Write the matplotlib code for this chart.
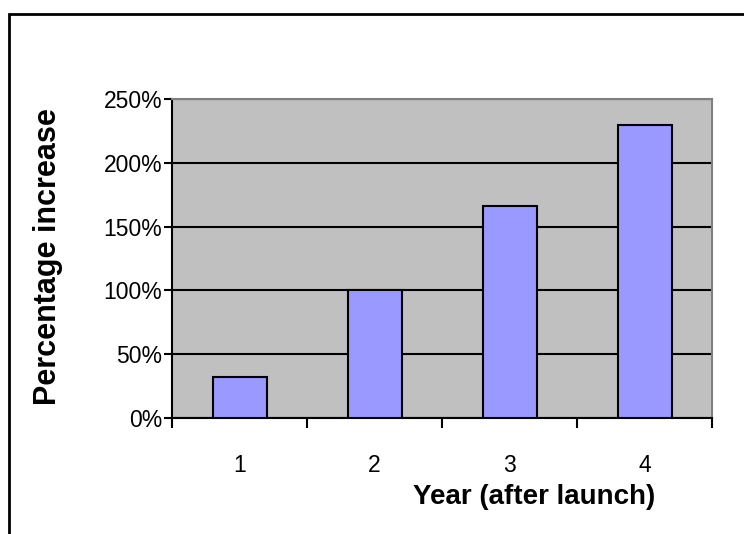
import matplotlib
matplotlib.use('Agg')
import matplotlib.pyplot as plt
from matplotlib.patches import Rectangle
from matplotlib.ticker import FuncFormatter, MultipleLocator

plt.rcParams['font.family'] = ['Liberation Sans', 'DejaVu Sans']

years = ['1', '2', '3', '4']
increase = [32.5, 100, 166, 230]

W, H = 744, 534
fig = plt.figure(figsize=(W / 100, H / 100), dpi=100)

# chart frame, runs off the right and bottom edges
fig.patches.append(Rectangle((9 / W, -0.05), 1.1, 1 - 14 / H + 0.05,
                             transform=fig.transFigure, fill=False,
                             edgecolor='black', linewidth=2))

ax = fig.add_axes([172 / W, 1 - 418 / H, (712 - 172) / W, (418 - 99) / H])
ax.set_facecolor('#C0C0C0')

x = range(len(years))
ax.bar(x, increase, width=0.4, color='#9999FF', edgecolor='black',
       linewidth=1.5, zorder=3)

ax.set_xlim(-0.5, len(years) - 0.5)
ax.set_ylim(0, 250)
ax.yaxis.set_major_locator(MultipleLocator(50))
ax.yaxis.set_major_formatter(FuncFormatter(lambda v, p: '%d%%' % v))
ax.grid(axis='y', color='black', linewidth=1.5, zorder=1)

# category ticks sit between the bars
ax.set_xticks([i - 0.5 for i in range(len(years) + 1)])
ax.set_xticklabels([])
ax.set_xticks(list(x), labels=years, minor=True)
ax.tick_params(axis='x', which='major', direction='out', length=7, width=1.5)
ax.tick_params(axis='x', which='minor', length=0, pad=26, labelsize=16.5)
ax.tick_params(axis='y', direction='out', length=6, width=1.5, labelsize=16.5, pad=1)

for s in ['left', 'bottom']:
    ax.spines[s].set_linewidth(1.5)
    ax.spines[s].set_color('black')
for s in ['top', 'right']:
    ax.spines[s].set_linewidth(1.5)
    ax.spines[s].set_color('#808080')

fig.text(48 / W, 1 - 257 / H, 'Percentage increase', rotation=90,
         ha='center', va='center', fontsize=22, fontweight='bold')
fig.text(534 / W, 1 - 497 / H, 'Year (after launch)',
         ha='center', va='center', fontsize=20, fontweight='bold')

fig.savefig('out.png', dpi=100)
